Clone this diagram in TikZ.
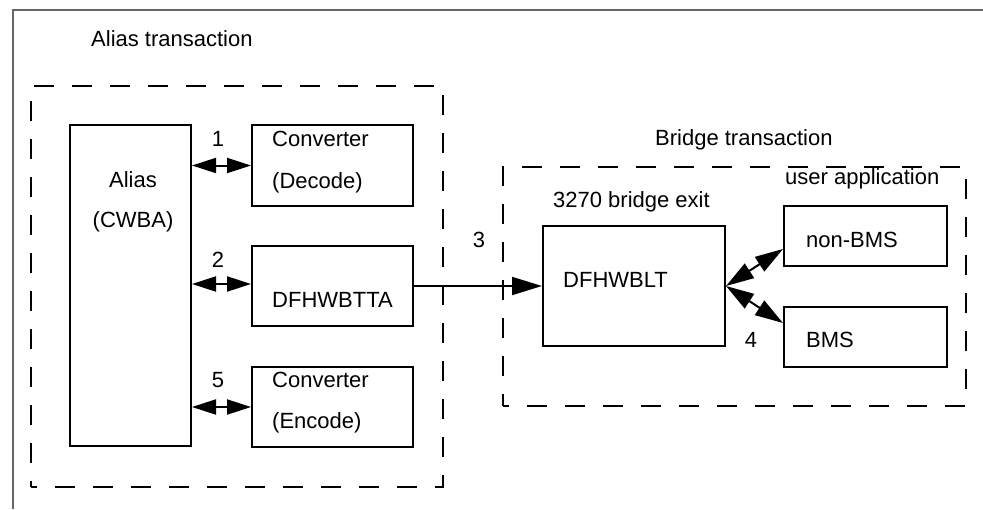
\documentclass[tikz,border=0pt]{standalone}
\usepackage{fontspec}
\setmainfont{Liberation Sans}
\usetikzlibrary{arrows.meta,calc}
\begin{document}
\begin{tikzpicture}[x=1pt,y=-1pt,
  font=\fontsize{22}{26}\selectfont,
  box/.style={draw,line width=2pt,inner sep=0pt},
  grp/.style={draw,line width=2.5pt,dash pattern=on 20pt off 18pt,dash phase=14pt,inner sep=0pt},
  frame/.style={draw,line width=1.5pt,black!60},
  txt/.style={anchor=base west,inner sep=0pt},
  ctxt/.style={anchor=base,inner sep=0pt},
  dbl/.style={line width=2pt,{Triangle[length=24pt,width=15pt]}-{Triangle[length=24pt,width=15pt]}},
  dblb/.style={line width=2pt,{Triangle[length=28pt,width=17pt]}-{Triangle[length=28pt,width=17pt]}},
  sgl/.style={line width=2pt,-{Triangle[length=30pt,width=18pt]}}
]
\useasboundingbox (0,0) rectangle (983,509);
% outer frame
\coordinate (ftr) at (983,10);
\coordinate (ftl) at (13,10);
\coordinate (fbl) at (13,509);
\draw[frame] (ftr) -- (ftl) -- (fbl);

% group boxes
\node[grp,minimum width=412pt,minimum height=401pt] (aliasgrp) at (237,286.5) {};
\node[grp,minimum width=463pt,minimum height=239pt] (bridgegrp) at (734.5,286.5) {};

% group titles
\node[txt] (talias) at (91,46) {Alias transaction};
\node[txt] (tbridge) at (655,145) {Bridge transaction};
\node[txt] (texit) at (553,207) {3270 bridge exit};
\node[txt] (tuser) at (785,184) {user application};

% boxes
\node[box,minimum width=121pt,minimum height=321pt] (alias) at (130.5,285.5) {};
\node[box,minimum width=161pt,minimum height=81pt] (dec) at (332.5,165.5) {};
\node[box,minimum width=161pt,minimum height=80pt] (tta) at (332.5,286) {};
\node[box,minimum width=161pt,minimum height=80pt] (enc) at (332.5,407) {};
\node[box,minimum width=182pt,minimum height=120pt] (blt) at (634,286) {};
\node[box,minimum width=163pt,minimum height=60pt] (nbms) at (865.5,236) {};
\node[box,minimum width=163pt,minimum height=60pt] (bms) at (865.5,337) {};

% box texts
\node[ctxt] (ta1) at (133,187) {Alias};
\node[ctxt] (ta2) at (133,227) {(CWBA)};
\node[txt] (td1) at (272,146) {Converter};
\node[txt] (td2) at (272,188) {(Decode)};
\node[txt] (tt1) at (272,307) {DFHWBTTA};
\node[txt] (te1) at (272,387) {Converter};
\node[txt] (te2) at (272,428) {(Encode)};
\node[txt] (tb1) at (563,287) {DFHWBLT};
\node[txt] (tn1) at (806,247) {non-BMS};
\node[txt] (tm1) at (806,347) {BMS};

% numbers
\node[ctxt] (n1) at (218,146) {1};
\node[ctxt] (n2) at (218,267) {2};
\node[ctxt] (n5) at (218,387) {5};
\node[ctxt] (n3) at (479,247) {3};
\node[ctxt] (n4) at (751,347) {4};

% connectors
\draw[dbl] (dec.west -| alias.east) -- (dec.west);
\draw[dbl] ([yshift=2pt]tta.west -| alias.east) -- ([yshift=2pt]tta.west);
\draw[dbl] (enc.west -| alias.east) -- (enc.west);
\draw[sgl] (tta.east) -- (blt.west);
\draw[dblb] (blt.east) -- ([yshift=18pt]nbms.south west);
\draw[dblb] (blt.east) -- ([yshift=-17pt]bms.north west);
\end{tikzpicture}
\end{document}
